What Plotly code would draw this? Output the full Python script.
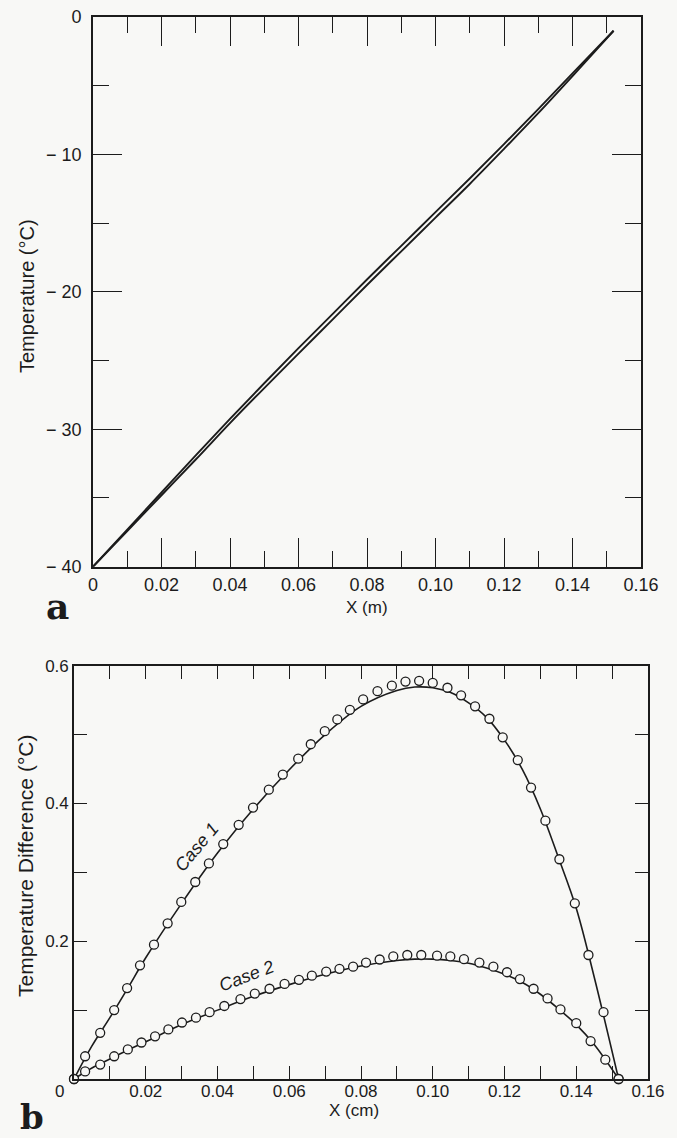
import plotly.graph_objects as go

# ---------------- data: panel a (temperature profiles) ----------------
a_x = [0, 0.01, 0.02, 0.03, 0.04, 0.05, 0.06, 0.07, 0.08, 0.09, 0.10, 0.11, 0.12, 0.13, 0.14, 0.152]
a_T1 = [-40.0, -37.3, -34.6, -31.9, -29.25, -26.65, -24.1, -21.6, -19.1, -16.65, -14.2, -11.75, -9.25, -6.7, -4.1, -1.0]
a_T2 = [-40.0, -37.4, -34.8, -32.2, -29.55, -27.0, -24.5, -22.0, -19.5, -17.05, -14.6, -12.15, -9.6, -7.0, -4.3, -1.0]

# ---------------- data: panel b (temperature differences) ----------------
line_x = [0, 0.005, 0.01, 0.015, 0.02, 0.03, 0.04, 0.05, 0.06, 0.07, 0.08, 0.09, 0.095, 0.10,
          0.105, 0.11, 0.115, 0.12, 0.125, 0.13, 0.135, 0.14, 0.145, 0.1518]
case1_line = [0, 0.048, 0.089, 0.132, 0.176, 0.255, 0.328, 0.392, 0.449, 0.500, 0.541, 0.564, 0.569, 0.568,
              0.561, 0.546, 0.525, 0.492, 0.449, 0.392, 0.322, 0.248, 0.148, 0]
case2_line = [0, 0.016, 0.029, 0.042, 0.054, 0.079, 0.100, 0.120, 0.137, 0.152, 0.164, 0.172, 0.174, 0.174,
              0.172, 0.168, 0.161, 0.152, 0.140, 0.123, 0.102, 0.079, 0.050, 0]

case1_px = [0.0, 0.0031, 0.0073, 0.0112, 0.0148, 0.0184, 0.0223, 0.0261, 0.0299, 0.0338, 0.0376, 0.0416,
            0.0459, 0.0499, 0.0543, 0.0582, 0.0625, 0.0660, 0.0699, 0.0734, 0.0769, 0.0806, 0.0846, 0.0886,
            0.0924, 0.0962, 0.1000, 0.1041, 0.1079, 0.1118, 0.1158, 0.1195, 0.1237, 0.1274, 0.1314, 0.1353,
            0.1396, 0.1434, 0.1476, 0.1518]
case1_py = [0.0, 0.033, 0.067, 0.100, 0.132, 0.165, 0.195, 0.226, 0.257, 0.286, 0.313, 0.341, 0.369, 0.394,
            0.420, 0.442, 0.465, 0.486, 0.505, 0.522, 0.536, 0.551, 0.563, 0.571, 0.577, 0.578, 0.575, 0.568,
            0.557, 0.541, 0.523, 0.496, 0.463, 0.423, 0.375, 0.319, 0.255, 0.180, 0.097, 0.0]

case2_px = [0.0, 0.0031, 0.0073, 0.0112, 0.0150, 0.0188, 0.0226, 0.0263, 0.0301, 0.0340, 0.0378, 0.0419,
            0.0464, 0.0504, 0.0545, 0.0587, 0.0627, 0.0663, 0.0703, 0.0740, 0.0778, 0.0814, 0.0852, 0.0890,
            0.0929, 0.0968, 0.1012, 0.1049, 0.1087, 0.1130, 0.1169, 0.1207, 0.1243, 0.1281, 0.1320, 0.1356,
            0.1400, 0.1440, 0.1481, 0.1518]
case2_py = [0.0, 0.011, 0.021, 0.033, 0.043, 0.053, 0.062, 0.072, 0.082, 0.089, 0.097, 0.106, 0.116, 0.124,
            0.131, 0.138, 0.144, 0.150, 0.156, 0.160, 0.163, 0.169, 0.1735, 0.178, 0.180, 0.180, 0.179, 0.178,
            0.174, 0.169, 0.163, 0.155, 0.145, 0.131, 0.117, 0.101, 0.081, 0.055, 0.028, 0.0]

# tick labels
a_xticks = [0, 0.02, 0.04, 0.06, 0.08, 0.10, 0.12, 0.14, 0.16]
a_xtext = ["0", "0.02", "0.04", "0.06", "0.08", "0.10", "0.12", "0.14", "0.16"]
a_yticks = [0, -10, -20, -30, -40]
a_ytext = ["0", "\u2212 10", "\u2212 20", "\u2212 30", "\u2212 40"]
b_xticks = [0, 0.02, 0.04, 0.06, 0.08, 0.10, 0.12, 0.14, 0.16]
b_xtext = ["0\u00a0\u00a0\u00a0\u00a0\u00a0\u00a0", "0.02", "0.04", "0.06", "0.08", "0.10", "0.12", "0.14", "0.16"]
b_yticks = [0.2, 0.4, 0.6]
b_ytext = ["0.2", "0.4", "0.6"]

W, H = 677, 1138
def px(x):
    return x / W
def py(y):
    return 1 - y / H

INK = "#1c1c1c"
BG = "#f8f8f6"
FONT = "Liberation Sans, Arial, Helvetica, sans-serif"

fig = go.Figure()

# panel a
for T in (a_T1, a_T2):
    fig.add_trace(go.Scatter(x=a_x, y=T, mode="lines", line=dict(color=INK, width=1.9, shape="spline"),
                             xaxis="x", yaxis="y", showlegend=False, hoverinfo="skip"))

# panel b lines
for L in (case1_line, case2_line):
    fig.add_trace(go.Scatter(x=line_x, y=L, mode="lines", line=dict(color=INK, width=1.6, shape="spline"),
                             xaxis="x2", yaxis="y2", showlegend=False, hoverinfo="skip"))
# panel b markers
for mx, my in ((case1_px, case1_py), (case2_px, case2_py)):
    fig.add_trace(go.Scatter(x=mx, y=my, mode="markers",
                             marker=dict(symbol="circle", size=9, color=BG,
                                         line=dict(color=INK, width=1.3)),
                             xaxis="x2", yaxis="y2", showlegend=False, hoverinfo="skip", cliponaxis=False))

axis_common = dict(showline=True, linecolor=INK, linewidth=1.6, mirror="ticks", ticks="inside",
                   tickcolor=INK, tickwidth=1.4, showgrid=False, zeroline=False, automargin=False,
                   tickfont=dict(family=FONT, size=18, color=INK))

def ann(text, x, y, size, family=FONT, angle=0):
    return dict(text=text, x=px(x), y=py(y), xref="paper", yref="paper", xanchor="center",
                yanchor="middle", textangle=angle, showarrow=False,
                font=dict(family=family, size=size, color=INK))

fig.update_layout(
    width=W, height=H,
    margin=dict(l=0, r=0, t=0, b=0, autoexpand=False),
    paper_bgcolor=BG, plot_bgcolor=BG,
    xaxis=dict(axis_common, domain=[px(93), px(641)], range=[0, 0.16], anchor="y",
               tickmode="array", tickvals=a_xticks, ticktext=a_xtext, ticklen=29,
               minor=dict(dtick=0.01, ticklen=16, ticks="inside", tickcolor=INK, tickwidth=1.4),
               ticklabelstandoff=1),
    yaxis=dict(axis_common, domain=[py(566.7), py(17)], range=[-40, 0], anchor="x",
               tickmode="array", tickvals=a_yticks, ticktext=a_ytext, ticklen=29,
               minor=dict(dtick=5, ticklen=16, ticks="inside", tickcolor=INK, tickwidth=1.4),
               ticklabelstandoff=6),
    xaxis2=dict(axis_common, domain=[px(74), px(648)], range=[0, 0.16], anchor="y2",
                tickmode="array", tickvals=b_xticks, ticktext=b_xtext, ticklen=13,
                minor=dict(dtick=0.01, ticklen=13, ticks="inside", tickcolor=INK, tickwidth=1.4),
                tickfont=dict(family=FONT, size=17, color=INK), ticklabelstandoff=-4),
    yaxis2=dict(axis_common, domain=[py(1079), py(665.7)], range=[0, 0.6], anchor="x2",
                tickmode="array", tickvals=b_yticks, ticktext=b_ytext, ticklen=13,
                minor=dict(dtick=0.1, ticklen=13, ticks="inside", tickcolor=INK, tickwidth=1.4),
                tickfont=dict(family=FONT, size=17, color=INK), ticklabelstandoff=0),
    annotations=[
        ann("Temperature (\u00b0C)", 27, 296, 20, angle=-90),
        ann("X (m)", 367, 607, 17),
        ann("<b>a</b>", 57, 606, 36, family="DejaVu Serif, serif"),
        ann("Temperature Difference (\u00b0C)", 26, 866, 21, angle=-90),
        ann("X (cm)", 354, 1110, 17),
        ann("<b>b</b>", 32, 1117, 34, family="DejaVu Serif, serif"),
        dict(text="<i>Case 1</i>", x=0.0342, y=0.337, xref="x2", yref="y2", textangle=-50,
             xanchor="center", yanchor="middle",
             showarrow=False, font=dict(family=FONT, size=18, color=INK)),
        dict(text="<i>Case 2</i>", x=0.0481, y=0.1495, xref="x2", yref="y2", textangle=-21,
             xanchor="center", yanchor="middle",
             showarrow=False, font=dict(family=FONT, size=18, color=INK)),
    ],
)

fig.write_html("out.html", config={"displayModeBar": False},
               post_script="document.body.style.margin='0';document.body.style.overflow='hidden';")
